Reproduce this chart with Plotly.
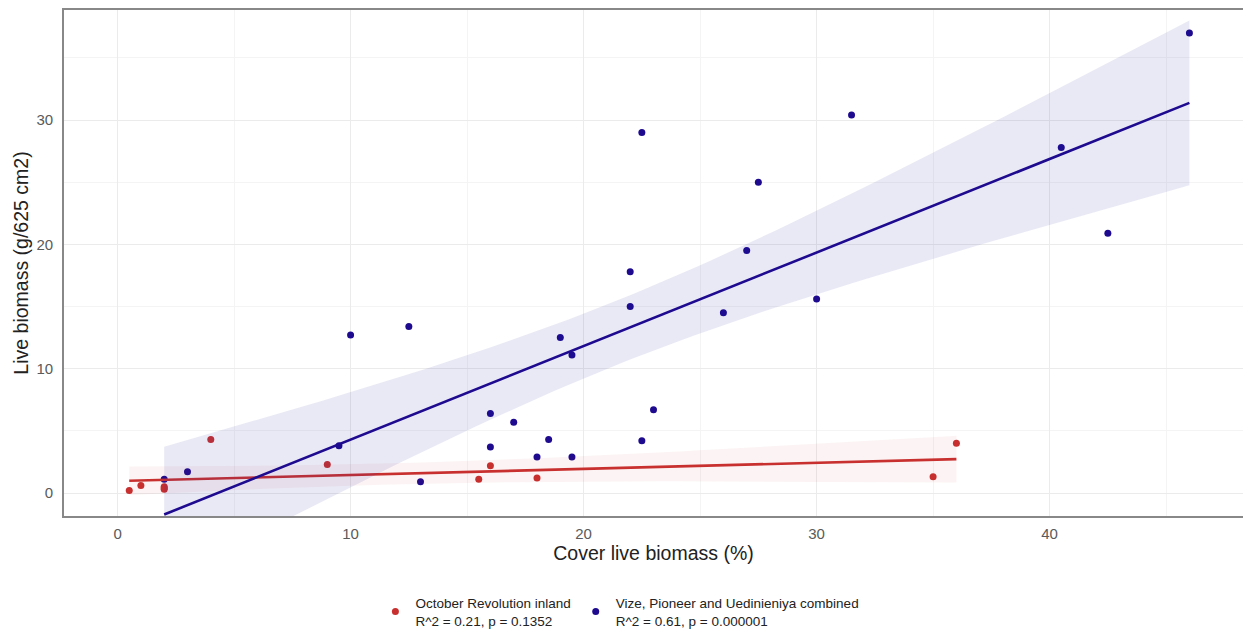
import numpy as np
import plotly.graph_objects as go

# ---- data ----
red_name = "October Revolution inland<br>R^2 = 0.21, p = 0.1352"
blue_name = "Vize, Pioneer and Uedinieniya combined<br>R^2 = 0.61, p = 0.000001"

red_x = [0.5, 1, 2, 2, 2, 4, 9, 15.5, 16, 18, 35, 36]
red_y = [0.2, 0.6, 0.3, 0.5, 0.4, 4.3, 2.3, 1.1, 2.2, 1.2, 1.3, 4.0]

blue_x = [22.5, 27.5, 27, 22, 30, 31.5, 46, 40.5, 42.5, 10, 12.5, 9.5, 13, 3, 2,
          22, 26, 19, 19.5, 16, 17, 16, 18.5, 18, 19.5, 23, 22.5]
blue_y = [29, 25, 19.5, 17.8, 15.6, 30.4, 37, 27.8, 20.9, 12.7, 13.4, 3.8, 0.9, 1.7, 1.1,
          15, 14.5, 12.5, 11.1, 6.4, 5.7, 3.7, 4.3, 2.9, 2.9, 6.7, 4.2]

x_ticks = [0, 10, 20, 30, 40]
y_ticks = [0, 10, 20, 30]

RED = "#c8302f"
BLUE = "#1d0a8f"
T95 = {10: 2.2281, 25: 2.0595}  # t quantiles (0.975) for df


def fit_band(x, y, npts=80):
    x = np.asarray(x, float)
    y = np.asarray(y, float)
    n = len(x)
    b, a = np.polyfit(x, y, 1)
    res = y - (a + b * x)
    s = np.sqrt(np.sum(res ** 2) / (n - 2))
    mx = x.mean()
    sxx = np.sum((x - mx) ** 2)
    xs = np.linspace(x.min(), x.max(), npts)
    ys = a + b * xs
    se = s * np.sqrt(1 / n + (xs - mx) ** 2 / sxx)
    t = T95.get(n - 2, 2.0)
    return xs, ys, ys - t * se, ys + t * se


fig = go.Figure()

fig.add_trace(go.Scatter(x=red_x, y=red_y, mode="markers", name=red_name,
                         marker=dict(color=RED, size=7), showlegend=True))
fig.add_trace(go.Scatter(x=blue_x, y=blue_y, mode="markers", name=blue_name,
                         marker=dict(color=BLUE, size=7), showlegend=True))

for (gx, gy, col, fill) in [(red_x, red_y, RED, "rgba(200,48,47,0.05)"),
                            (blue_x, blue_y, BLUE, "rgba(40,40,160,0.1)")]:
    xs, ys, lo, hi = fit_band(gx, gy)
    fig.add_trace(go.Scatter(x=np.concatenate([xs, xs[::-1]]),
                             y=np.concatenate([hi, lo[::-1]]),
                             mode="lines", line=dict(width=0), fill="toself",
                             fillcolor=fill, hoverinfo="skip", showlegend=False))
    fig.add_trace(go.Scatter(x=xs, y=ys, mode="lines",
                             line=dict(color=col, width=2.6), showlegend=False))

font = "Liberation Sans, Arial, sans-serif"
fig.update_layout(
    width=1243, height=629,
    margin=dict(l=64, r=0, t=10, b=113),
    paper_bgcolor="white", plot_bgcolor="white",
    font=dict(family=font, color="#222"),
    showlegend=True,
    legend=dict(orientation="h", xref="container", yref="container",
                x=0.302, xanchor="left", y=0.066, yanchor="top",
                font=dict(size=13.5, color="#222"), itemsizing="trace",
                tracegroupgap=0, itemwidth=30),
    xaxis=dict(range=[-2.3, 48.3], tickvals=x_ticks, ticktext=[str(v) for v in x_ticks],
               showgrid=True, gridcolor="#ebebeb", gridwidth=1.1,
               minor=dict(dtick=5, tick0=0, showgrid=True, gridcolor="#f4f4f4", gridwidth=0.6),
               showline=True, linecolor="#888", linewidth=1.6, mirror=True,
               zeroline=False, ticks="", ticklabelstandoff=3, automargin=False,
               tickfont=dict(size=15, color="#5a5a5a"),
               title=dict(text="Cover live biomass (%)", font=dict(size=19.5, color="#222"), standoff=6)),
    yaxis=dict(range=[-1.85, 38.85], tickvals=y_ticks, ticktext=[str(v) for v in y_ticks],
               showgrid=True, gridcolor="#ebebeb", gridwidth=1.1,
               minor=dict(dtick=5, tick0=0, showgrid=True, gridcolor="#f4f4f4", gridwidth=0.6),
               showline=True, linecolor="#888", linewidth=1.6, mirror=False,
               zeroline=False, ticks="", ticklabelstandoff=6, automargin=False,
               tickfont=dict(size=15, color="#5a5a5a"),
               title=dict(text="Live biomass (g/625 cm2)", font=dict(size=19.5, color="#222"), standoff=3)),
)

fig.write_html("out.html")
